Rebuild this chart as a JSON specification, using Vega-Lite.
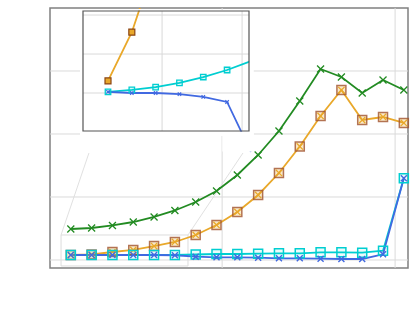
{
  "$schema": "https://vega.github.io/schema/vega-lite/v6.json",
  "background": "white",
  "padding": {"left": 50, "top": 8, "right": 7, "bottom": 49},
  "autosize": {"type": "none"},
  "width": 358,
  "height": 260,
  "config": {
    "view": {"stroke": "#808080", "strokeWidth": 1.5}
  },
  "datasets": {
    "main": [
      {"s": "A", "i": 0, "v": 4.92}, {"s": "A", "i": 1, "v": 5.08}, {"s": "A", "i": 2, "v": 5.48}, {"s": "A", "i": 3, "v": 6.03},
      {"s": "A", "i": 4, "v": 6.83}, {"s": "A", "i": 5, "v": 7.86}, {"s": "A", "i": 6, "v": 9.21}, {"s": "A", "i": 7, "v": 10.95},
      {"s": "A", "i": 8, "v": 13.49}, {"s": "A", "i": 9, "v": 16.67}, {"s": "A", "i": 10, "v": 20.48}, {"s": "A", "i": 11, "v": 25.24},
      {"s": "A", "i": 12, "v": 30.32}, {"s": "A", "i": 13, "v": 29.05}, {"s": "A", "i": 14, "v": 26.51}, {"s": "A", "i": 15, "v": 28.57},
      {"s": "A", "i": 16, "v": 26.98},
      {"s": "B", "i": 0, "v": 0.79}, {"s": "B", "i": 1, "v": 0.87}, {"s": "B", "i": 2, "v": 1.27}, {"s": "B", "i": 3, "v": 1.59},
      {"s": "B", "i": 4, "v": 2.22}, {"s": "B", "i": 5, "v": 2.86}, {"s": "B", "i": 6, "v": 3.97}, {"s": "B", "i": 7, "v": 5.56},
      {"s": "B", "i": 8, "v": 7.62}, {"s": "B", "i": 9, "v": 10.32}, {"s": "B", "i": 10, "v": 13.81}, {"s": "B", "i": 11, "v": 18.02},
      {"s": "B", "i": 12, "v": 22.86}, {"s": "B", "i": 13, "v": 26.98}, {"s": "B", "i": 14, "v": 22.22}, {"s": "B", "i": 15, "v": 22.7},
      {"s": "B", "i": 16, "v": 21.75},
      {"s": "C", "i": 0, "v": 0.79}, {"s": "C", "i": 1, "v": 0.79}, {"s": "C", "i": 2, "v": 0.79}, {"s": "C", "i": 3, "v": 0.79},
      {"s": "C", "i": 4, "v": 0.79}, {"s": "C", "i": 5, "v": 0.79}, {"s": "C", "i": 6, "v": 0.87}, {"s": "C", "i": 7, "v": 0.95},
      {"s": "C", "i": 8, "v": 0.95}, {"s": "C", "i": 9, "v": 1.0}, {"s": "C", "i": 10, "v": 1.06}, {"s": "C", "i": 11, "v": 1.06},
      {"s": "C", "i": 12, "v": 1.22}, {"s": "C", "i": 13, "v": 1.22}, {"s": "C", "i": 14, "v": 1.16}, {"s": "C", "i": 15, "v": 1.48},
      {"s": "C", "i": 16, "v": 12.97},
      {"s": "D", "i": 0, "v": 0.79}, {"s": "D", "i": 1, "v": 0.79}, {"s": "D", "i": 2, "v": 0.79}, {"s": "D", "i": 3, "v": 0.79},
      {"s": "D", "i": 4, "v": 0.79}, {"s": "D", "i": 5, "v": 0.75}, {"s": "D", "i": 6, "v": 0.52}, {"s": "D", "i": 7, "v": 0.43},
      {"s": "D", "i": 8, "v": 0.43}, {"s": "D", "i": 9, "v": 0.37}, {"s": "D", "i": 10, "v": 0.27}, {"s": "D", "i": 11, "v": 0.27},
      {"s": "D", "i": 12, "v": 0.21}, {"s": "D", "i": 13, "v": 0.16}, {"s": "D", "i": 14, "v": 0.16}, {"s": "D", "i": 15, "v": 0.9},
      {"s": "D", "i": 16, "v": 12.97}
    ],
    "inset": [
      {"s": "B", "i": 0, "u": 0.31}, {"s": "B", "i": 1, "u": 1.56}, {"s": "B", "i": 2, "u": 3.38},
      {"s": "C", "i": 0, "u": 0.03}, {"s": "C", "i": 1, "u": 0.08}, {"s": "C", "i": 2, "u": 0.15}, {"s": "C", "i": 3, "u": 0.26},
      {"s": "C", "i": 4, "u": 0.41}, {"s": "C", "i": 5, "u": 0.59}, {"s": "C", "i": 6, "u": 0.82},
      {"s": "D", "i": 0, "u": 0.03}, {"s": "D", "i": 1, "u": 0.0}, {"s": "D", "i": 2, "u": 0.0}, {"s": "D", "i": 3, "u": -0.03},
      {"s": "D", "i": 4, "u": -0.1}, {"s": "D", "i": 5, "u": -0.23}, {"s": "D", "i": 6, "u": -1.51}
    ]
  },
  "resolve": {"scale": {"x": "independent", "y": "independent"}},
  "layer": [
    {
      "data": {"name": "main"},
      "layer": [
        {
          "data": {"values": [{"g": 0}, {"g": 10}, {"g": 20}, {"g": 30}]},
          "mark": {"type": "rule", "stroke": "#dadada", "strokeWidth": 1},
          "encoding": {
            "y": {"field": "g", "type": "quantitative", "scale": {"domain": [-1.27, 40], "nice": false, "zero": false}, "axis": null}
          }
        },
        {
          "data": {"values": [{"g": 7.27}, {"g": 15.58}]},
          "mark": {"type": "rule", "stroke": "#dadada", "strokeWidth": 1},
          "encoding": {
            "x": {"field": "g", "type": "quantitative", "scale": {"domain": [-1, 16.2], "nice": false, "zero": false}, "axis": null}
          }
        },
        {
          "data": {"values": [{}]},
          "mark": {"type": "rect", "fill": "white", "strokeWidth": 0},
          "encoding": {
            "x": {"datum": 0.44, "type": "quantitative", "scale": {"domain": [-1, 16.2], "nice": false, "zero": false}, "axis": null},
            "x2": {"datum": 8.61},
            "y": {"datum": 19.68, "type": "quantitative", "scale": {"domain": [-1.27, 40], "nice": false, "zero": false}, "axis": null},
            "y2": {"datum": 39.68}
          }
        },
        {
          "data": {"values": [{}]},
          "mark": {"type": "rect", "fill": null, "stroke": "#dcdcdc", "strokeWidth": 1},
          "encoding": {
            "x": {"datum": -0.47, "type": "quantitative", "scale": {"domain": [-1, 16.2], "nice": false, "zero": false}, "axis": null},
            "x2": {"datum": 5.63},
            "y": {"datum": -0.95, "type": "quantitative", "scale": {"domain": [-1.27, 40], "nice": false, "zero": false}, "axis": null},
            "y2": {"datum": 3.97}
          }
        },
        {
          "data": {"values": [{}]},
          "mark": {"type": "rule", "stroke": "#dcdcdc", "strokeWidth": 0.9},
          "encoding": {
            "x": {"datum": -0.47, "type": "quantitative", "scale": {"domain": [-1, 16.2], "nice": false, "zero": false}, "axis": null},
            "x2": {"datum": 0.87},
            "y": {"datum": 3.97, "type": "quantitative", "scale": {"domain": [-1.27, 40], "nice": false, "zero": false}, "axis": null},
            "y2": {"datum": 16.98}
          }
        },
        {
          "data": {"values": [{}]},
          "mark": {"type": "rule", "stroke": "#dcdcdc", "strokeWidth": 0.9},
          "encoding": {
            "x": {"datum": 5.63, "type": "quantitative", "scale": {"domain": [-1, 16.2], "nice": false, "zero": false}, "axis": null},
            "x2": {"datum": 8.27},
            "y": {"datum": 3.97, "type": "quantitative", "scale": {"domain": [-1.27, 40], "nice": false, "zero": false}, "axis": null},
            "y2": {"datum": 16.98}
          }
        },
        {
          "mark": {"type": "line", "strokeWidth": 1.8},
          "encoding": {
            "x": {"field": "i", "type": "quantitative", "scale": {"domain": [-1, 16.2], "nice": false, "zero": false}, "axis": null},
            "y": {"field": "v", "type": "quantitative", "scale": {"domain": [-1.27, 40], "nice": false, "zero": false}, "axis": null},
            "color": {"field": "s", "type": "nominal", "scale": {"domain": ["A", "B", "C", "D"], "range": ["#228B22", "#E9A82A", "#00CED1", "#4169E1"]}, "legend": null}
          }
        },
        {
          "transform": [{"filter": "datum.s === 'A'"}],
          "mark": {"type": "point", "shape": "M-1,-1L1,1M-1,1L1,-1", "filled": false, "stroke": "#228B22", "strokeWidth": 1.3, "size": 49, "opacity": 1},
          "encoding": {
            "x": {"field": "i", "type": "quantitative", "scale": {"domain": [-1, 16.2], "nice": false, "zero": false}, "axis": null},
            "y": {"field": "v", "type": "quantitative", "scale": {"domain": [-1.27, 40], "nice": false, "zero": false}, "axis": null}
          }
        },
        {
          "transform": [{"filter": "datum.s === 'B'"}],
          "mark": {"type": "point", "shape": "square", "filled": true, "fill": "#E9A82A", "fillOpacity": 0.25, "stroke": "#A0522D", "strokeOpacity": 0.8, "strokeWidth": 1.5, "size": 81, "opacity": 1},
          "encoding": {
            "x": {"field": "i", "type": "quantitative", "scale": {"domain": [-1, 16.2], "nice": false, "zero": false}, "axis": null},
            "y": {"field": "v", "type": "quantitative", "scale": {"domain": [-1.27, 40], "nice": false, "zero": false}, "axis": null}
          }
        },
        {
          "transform": [{"filter": "datum.s === 'B'"}],
          "mark": {"type": "point", "shape": "M-1,-1L1,1M-1,1L1,-1", "filled": false, "stroke": "#E9A82A", "strokeWidth": 1.3, "size": 40, "opacity": 1},
          "encoding": {
            "x": {"field": "i", "type": "quantitative", "scale": {"domain": [-1, 16.2], "nice": false, "zero": false}, "axis": null},
            "y": {"field": "v", "type": "quantitative", "scale": {"domain": [-1.27, 40], "nice": false, "zero": false}, "axis": null}
          }
        },
        {
          "transform": [{"filter": "datum.s === 'C'"}],
          "mark": {"type": "point", "shape": "square", "filled": true, "fill": "#00CED1", "fillOpacity": 0.08, "stroke": "#00CED1", "strokeWidth": 1.5, "size": 81, "opacity": 1},
          "encoding": {
            "x": {"field": "i", "type": "quantitative", "scale": {"domain": [-1, 16.2], "nice": false, "zero": false}, "axis": null},
            "y": {"field": "v", "type": "quantitative", "scale": {"domain": [-1.27, 40], "nice": false, "zero": false}, "axis": null}
          }
        },
        {
          "transform": [{"filter": "datum.s === 'D'"}],
          "mark": {"type": "point", "shape": "M-1,-1L1,1M-1,1L1,-1", "filled": false, "stroke": "#4169E1", "strokeWidth": 1.4, "size": 36, "opacity": 1},
          "encoding": {
            "x": {"field": "i", "type": "quantitative", "scale": {"domain": [-1, 16.2], "nice": false, "zero": false}, "axis": null},
            "y": {"field": "v", "type": "quantitative", "scale": {"domain": [-1.27, 40], "nice": false, "zero": false}, "axis": null}
          }
        }
      ]
    },
    {
      "data": {"name": "inset"},
      "layer": [
        {
          "data": {"values": [{"g": 2.27}, {"g": 5.63}]},
          "mark": {"type": "rule", "stroke": "#d9d9d9", "strokeWidth": 1},
          "encoding": {
            "x": {"field": "g", "type": "quantitative", "scale": {"domain": [-1.05, 5.92], "range": [33, 199], "nice": false, "zero": false}, "axis": null},
            "y": {"datum": -0.974, "type": "quantitative", "scale": {"domain": [-0.974, 2.103], "range": [123, 3], "nice": false, "zero": false}, "axis": null},
            "y2": {"datum": 2.103}
          }
        },
        {
          "data": {"values": [{"g": 0}, {"g": 1}, {"g": 2}]},
          "mark": {"type": "rule", "stroke": "#d9d9d9", "strokeWidth": 1},
          "encoding": {
            "x": {"datum": -1.05, "type": "quantitative", "scale": {"domain": [-1.05, 5.92], "range": [33, 199], "nice": false, "zero": false}, "axis": null},
            "x2": {"datum": 5.92},
            "y": {"field": "g", "type": "quantitative", "scale": {"domain": [-0.974, 2.103], "range": [123, 3], "nice": false, "zero": false}, "axis": null}
          }
        },
        {
          "mark": {"type": "line", "strokeWidth": 1.8, "clip": true},
          "encoding": {
            "x": {"field": "i", "type": "quantitative", "scale": {"domain": [-1.05, 5.92], "range": [33, 199], "nice": false, "zero": false}, "axis": null},
            "y": {"field": "u", "type": "quantitative", "scale": {"domain": [-0.974, 2.103], "range": [123, 3], "nice": false, "zero": false}, "axis": null},
            "color": {"field": "s", "type": "nominal", "scale": {"domain": ["A", "B", "C", "D"], "range": ["#228B22", "#E9A82A", "#00CED1", "#4169E1"]}, "legend": null}
          }
        },
        {
          "transform": [{"filter": "datum.s === 'B' && datum.i < 2"}],
          "mark": {"type": "point", "shape": "square", "filled": true, "fill": "#E9A82A", "stroke": "#8B4513", "strokeWidth": 1.2, "size": 36, "opacity": 1},
          "encoding": {
            "x": {"field": "i", "type": "quantitative", "scale": {"domain": [-1.05, 5.92], "range": [33, 199], "nice": false, "zero": false}, "axis": null},
            "y": {"field": "u", "type": "quantitative", "scale": {"domain": [-0.974, 2.103], "range": [123, 3], "nice": false, "zero": false}, "axis": null}
          }
        },
        {
          "transform": [{"filter": "datum.s === 'C' && datum.i < 6"}],
          "mark": {"type": "point", "shape": "square", "filled": true, "fill": "#00CED1", "fillOpacity": 0.15, "stroke": "#00CED1", "strokeWidth": 1.3, "size": 30, "opacity": 1},
          "encoding": {
            "x": {"field": "i", "type": "quantitative", "scale": {"domain": [-1.05, 5.92], "range": [33, 199], "nice": false, "zero": false}, "axis": null},
            "y": {"field": "u", "type": "quantitative", "scale": {"domain": [-0.974, 2.103], "range": [123, 3], "nice": false, "zero": false}, "axis": null}
          }
        },
        {
          "transform": [{"filter": "datum.s === 'D' && datum.i < 6"}],
          "mark": {"type": "point", "shape": "M-1,-1L1,1M-1,1L1,-1", "filled": false, "stroke": "#4169E1", "strokeWidth": 1.2, "size": 12, "opacity": 1},
          "encoding": {
            "x": {"field": "i", "type": "quantitative", "scale": {"domain": [-1.05, 5.92], "range": [33, 199], "nice": false, "zero": false}, "axis": null},
            "y": {"field": "u", "type": "quantitative", "scale": {"domain": [-0.974, 2.103], "range": [123, 3], "nice": false, "zero": false}, "axis": null}
          }
        },
        {
          "data": {"values": [{}]},
          "mark": {"type": "rect", "fill": "white", "strokeWidth": 0},
          "encoding": {
            "x": {"datum": 5.93, "type": "quantitative", "scale": {"domain": [-1.05, 5.92], "range": [33, 199], "nice": false, "zero": false}, "axis": null},
            "x2": {"datum": 6.12},
            "y": {"datum": -1.5, "type": "quantitative", "scale": {"domain": [-0.974, 2.103], "range": [123, 3], "nice": false, "zero": false}, "axis": null},
            "y2": {"datum": 2.1}
          }
        },
        {
          "data": {"values": [{}]},
          "mark": {"type": "rect", "fill": "white", "strokeWidth": 0},
          "encoding": {
            "x": {"datum": 4.8, "type": "quantitative", "scale": {"domain": [-1.05, 5.92], "range": [33, 199], "nice": false, "zero": false}, "axis": null},
            "x2": {"datum": 6.12},
            "y": {"datum": -1.5, "type": "quantitative", "scale": {"domain": [-0.974, 2.103], "range": [123, 3], "nice": false, "zero": false}, "axis": null},
            "y2": {"datum": -0.99}
          }
        },
        {
          "data": {"values": [{}]},
          "mark": {"type": "rect", "fill": "white", "strokeWidth": 0},
          "encoding": {
            "x": {"datum": 0.9, "type": "quantitative", "scale": {"domain": [-1.05, 5.92], "range": [33, 199], "nice": false, "zero": false}, "axis": null},
            "x2": {"datum": 1.8},
            "y": {"datum": 2.115, "type": "quantitative", "scale": {"domain": [-0.974, 2.103], "range": [123, 3], "nice": false, "zero": false}, "axis": null},
            "y2": {"datum": 2.155}
          }
        },
        {
          "data": {"values": [{}]},
          "mark": {"type": "rect", "fill": null, "stroke": "#555555", "strokeWidth": 1.2},
          "encoding": {
            "x": {"datum": -1.05, "type": "quantitative", "scale": {"domain": [-1.05, 5.92], "range": [33, 199], "nice": false, "zero": false}, "axis": null},
            "x2": {"datum": 5.92},
            "y": {"datum": -0.974, "type": "quantitative", "scale": {"domain": [-0.974, 2.103], "range": [123, 3], "nice": false, "zero": false}, "axis": null},
            "y2": {"datum": 2.103}
          }
        }
      ]
    }
  ]
}
